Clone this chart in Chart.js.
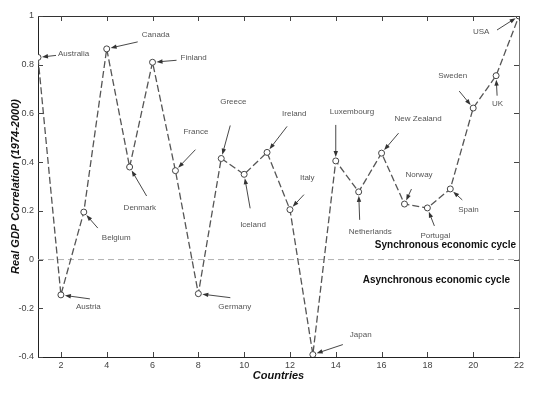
<!DOCTYPE html>
<html>
<head>
<meta charset="utf-8">
<script src="https://cdn.jsdelivr.net/npm/chart.js@4.4.1/dist/chart.umd.min.js"></script>
<style>
  body { margin: 0; background: #fff; }
  canvas { display: block; }
</style>
</head>
<body>
<canvas id="grafico" width="540" height="405"></canvas>
<script>
// dados
const countries = ["Australia", "Austria", "Belgium", "Canada", "Denmark", "Finland", "France", "Germany",
  "Greece", "Iceland", "Ireland", "Italy", "Japan", "Luxembourg", "Netherlands", "New Zealand",
  "Norway", "Portugal", "Spain", "Sweden", "UK", "USA"];
const countryIndex = [1, 2, 3, 4, 5, 6, 7, 8, 9, 10, 11, 12, 13, 14, 15, 16, 17, 18, 19, 20, 21, 22];
const correlation = [0.83, -0.145, 0.195, 0.865, 0.38, 0.81, 0.365, -0.14, 0.415, 0.35, 0.44, 0.205,
  -0.39, 0.405, 0.278, 0.437, 0.228, 0.212, 0.29, 0.622, 0.755, 1.0];
const cycleLabels = ["Synchronous economic cycle", "Asynchronous economic cycle"];

// label placement (px offsets from each point): [textX, textY, arrowTailX, arrowTailY]
const labelOffsets = [
  [20, -4, 18, -2], [15, 12, 29, 4], [18, 26, 14, 16], [35, -14, 31, -7],
  [-6, 41, 17, 29], [28, -4, 24, -2], [8, -39, 20, -21], [20, 13, 32, 4],
  [-1, -57, 9, -33], [-4, 50, 6, 34], [15, -39, 20, -26], [10, -32, 14, -15],
  [37, -20, 30, -10], [-6, -49, 0, -36], [-10, 40, 1, 28], [13, -34, 17, -20],
  [1, -29, 7, -15], [-7, 28, 7, 18], [8, 21, 12, 11], [-35, -32, -14, -17],
  [-4, 28, 1, 20], [-46, 16, -22, 14]
];

const canvas = document.getElementById("grafico");

const molduraPlugin = {
  id: "moldura",
  beforeDatasetsDraw(chart) {
    const { ctx, chartArea, scales } = chart;
    const y0 = scales.y.getPixelForValue(0);
    ctx.save();
    ctx.strokeStyle = "#b0b0b0";
    ctx.lineWidth = 1;
    ctx.setLineDash([6, 4]);
    ctx.beginPath();
    ctx.moveTo(chartArea.left, y0);
    ctx.lineTo(chartArea.right, y0);
    ctx.stroke();
    ctx.restore();
  },
  afterDraw(chart) {
    const { ctx, chartArea, scales } = chart;
    const { left, right, top, bottom } = chartArea;
    ctx.save();
    ctx.lineWidth = 1;
    // top and right frame
    ctx.strokeStyle = "#333";
    ctx.beginPath();
    ctx.moveTo(left, top + 0.5);
    ctx.lineTo(right, top + 0.5);
    ctx.stroke();
    ctx.strokeStyle = "#777";
    ctx.beginPath();
    ctx.moveTo(right + 0.5, top);
    ctx.lineTo(right + 0.5, bottom);
    ctx.stroke();
    // inward ticks
    ctx.strokeStyle = "#444";
    scales.x.ticks.forEach((t) => {
      const x = Math.round(scales.x.getPixelForValue(t.value)) + 0.5;
      ctx.beginPath();
      ctx.moveTo(x, bottom);
      ctx.lineTo(x, bottom - 5);
      ctx.moveTo(x, top);
      ctx.lineTo(x, top + 5);
      ctx.stroke();
    });
    scales.y.ticks.forEach((t) => {
      const y = Math.round(scales.y.getPixelForValue(t.value)) + 0.5;
      ctx.beginPath();
      ctx.moveTo(left, y);
      ctx.lineTo(left + 5, y);
      ctx.moveTo(right, y);
      ctx.lineTo(right - 5, y);
      ctx.stroke();
    });
    ctx.restore();
  },
};

const rotulosPlugin = {
  id: "rotulos",
  afterDatasetsDraw(chart) {
    const { ctx, chartArea, scales } = chart;
    const meta = chart.getDatasetMeta(0);
    ctx.save();
    ctx.font = "8px 'Liberation Sans', Arial, sans-serif";
    ctx.textAlign = "left";
    ctx.textBaseline = "middle";
    meta.data.forEach((pt, i) => {
      const [tx, ty, ax, ay] = labelOffsets[i];
      ctx.fillStyle = "#555";
      ctx.fillText(countries[i], pt.x + tx, pt.y + ty);
      // arrow
      const len = Math.hypot(ax, ay);
      const ux = ax / len, uy = ay / len;
      const hx = pt.x + ux * 4, hy = pt.y + uy * 4;
      ctx.strokeStyle = "#333";
      ctx.fillStyle = "#333";
      ctx.lineWidth = 0.9;
      ctx.beginPath();
      ctx.moveTo(pt.x + ax, pt.y + ay);
      ctx.lineTo(hx + ux * 4, hy + uy * 4);
      ctx.stroke();
      ctx.beginPath();
      ctx.moveTo(hx, hy);
      ctx.lineTo(hx + ux * 6 - uy * 2.2, hy + uy * 6 + ux * 2.2);
      ctx.lineTo(hx + ux * 6 + uy * 2.2, hy + uy * 6 - ux * 2.2);
      ctx.closePath();
      ctx.fill();
    });
    const y0 = scales.y.getPixelForValue(0);
    ctx.font = "bold 10px 'Liberation Sans', Arial, sans-serif";
    ctx.fillStyle = "#111";
    ctx.textAlign = "right";
    ctx.fillText(cycleLabels[0], chartArea.right - 3, y0 - 14);
    ctx.fillText(cycleLabels[1], chartArea.right - 9, y0 + 21);
    ctx.restore();
  },
};

new Chart(canvas, {
  type: "line",
  data: {
    labels: countries,
    datasets: [
      {
        data: countryIndex.map((x, i) => ({ x: x, y: correlation[i] })),
        borderColor: "#555",
        borderWidth: 1.3,
        borderDash: [7, 3],
        pointRadius: 3,
        pointBackgroundColor: "#fff",
        pointBorderColor: "#444",
        pointBorderWidth: 1,
        tension: 0,
      },
    ],
  },
  options: {
    responsive: false,
    animation: false,
    layout: { padding: { top: 16, right: 21, left: 0, bottom: 0 } },
    plugins: {
      legend: { display: false },
      tooltip: { enabled: false },
    },
    scales: {
      x: {
        type: "linear",
        min: 1,
        max: 22,
        afterBuildTicks: (scale) => {
          scale.ticks = scale.ticks.filter((t) => t.value % 2 === 0);
        },
        afterFit: (scale) => {
          scale.height = 48;
        },
        ticks: {
          stepSize: 2,
          padding: 3,
          color: "#444",
          font: { size: 9, family: "'Liberation Sans', Arial, sans-serif" },
        },
        grid: { display: false, drawTicks: false },
        border: { display: true, color: "#222", width: 1 },
        title: {
          display: true,
          text: "Countries",
          color: "#111",
          padding: { top: 22, bottom: 22 },
          font: { size: 11, weight: "bold", style: "italic", family: "'Liberation Sans', Arial, sans-serif" },
        },
      },
      y: {
        min: -0.4,
        max: 1,
        afterFit: (scale) => {
          scale.width = 38;
        },
        ticks: {
          stepSize: 0.2,
          padding: 4,
          color: "#444",
          font: { size: 9, family: "'Liberation Sans', Arial, sans-serif" },
          callback: (v) => String(Math.round(v * 10) / 10),
        },
        grid: { display: false, drawTicks: false },
        border: { display: true, color: "#222", width: 1 },
        title: {
          display: true,
          text: "Real GDP Correlation (1974-2000)",
          color: "#111",
          padding: { top: 9, bottom: 9 },
          font: { size: 11, weight: "bold", style: "italic", family: "'Liberation Sans', Arial, sans-serif" },
        },
      },
    },
  },
  plugins: [molduraPlugin, rotulosPlugin],
});
</script>
</body>
</html>
